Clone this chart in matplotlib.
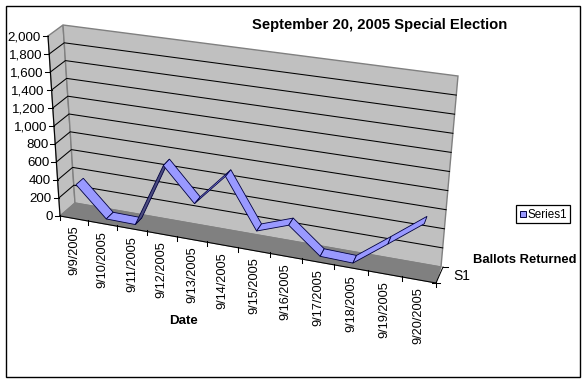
import numpy as np
import matplotlib
matplotlib.use('Agg')
import matplotlib.pyplot as plt
from matplotlib.patches import Polygon, Rectangle

plt.rcParams['font.family'] = ['Liberation Sans', 'DejaVu Sans']

dates = ['9/9/2005', '9/10/2005', '9/11/2005', '9/12/2005', '9/13/2005', '9/14/2005',
         '9/15/2005', '9/16/2005', '9/17/2005', '9/18/2005', '9/19/2005', '9/20/2005']
ballots = [340, 15, 10, 710, 350, 700, 170, 290, 20, 10, 270, 540]
y_ticks = [0, 200, 400, 600, 800, 1000, 1200, 1400, 1600, 1800, 2000]
y_max = 2000
title = 'September 20, 2005 Special Election'

# Corners of the 3D box in pixels (floor front/back, left/right) and the height vectors
FL = np.array([60.0, 216.0])
FR = np.array([436.0, 283.0])
BL = np.array([75.0, 203.0])
BR = np.array([441.0, 267.0])
UP_FL = np.array([-12.0, -180.0])
UP_BL = np.array([-12.0, -178.0])
UP_FR = np.array([17.0, -195.0])
UP_BR = np.array([17.0, -191.0])
W = 1.11  # perspective squeeze along the date axis


def project(u, value, depth):
    # u: 0..1 along dates, value: ballots, depth: 0 front..1 back
    s = u / (W + (1 - W) * u)
    floor = (1 - depth) * ((1 - s) * FL + s * FR) + depth * ((1 - s) * BL + s * BR)
    up = (1 - depth) * ((1 - s) * UP_FL + s * UP_FR) + depth * ((1 - s) * UP_BL + s * UP_BR)
    return floor + up * value / y_max


fig = plt.figure(figsize=(5.86, 3.83), dpi=100)
ax = fig.add_axes([0, 0, 1, 1])
ax.set_xlim(0, 586)
ax.set_ylim(383, 0)
ax.axis('off')

# Chart border
ax.add_patch(Rectangle((5.5, 5.5), 574.5, 371.5, fc='white', ec='black', lw=1.0))

# Walls and floor
wall_c = '#C0C0C0'
edge_c = '#808080'
left_wall = [project(0, 0, 0), project(0, 0, 1), project(0, y_max, 1), project(0, y_max, 0)]
back_wall = [project(0, 0, 1), project(1, 0, 1), project(1, y_max, 1), project(0, y_max, 1)]
floor = [project(0, 0, 0), project(1, 0, 0), project(1, 0, 1), project(0, 0, 1)]
ax.add_patch(Polygon(left_wall, fc=wall_c, ec=edge_c, lw=1.0, zorder=1))
ax.add_patch(Polygon(back_wall, fc=wall_c, ec=edge_c, lw=1.0, zorder=1))
ax.add_patch(Polygon(floor, fc=edge_c, ec=edge_c, lw=0.8, zorder=1))

# Gridlines
for v in y_ticks[1:-1]:
    pts = np.array([project(0, v, 0), project(0, v, 1), project(1, v, 1)])
    ax.plot(pts[:, 0], pts[:, 1], color='black', lw=0.75, zorder=2)

# Value axis
pts = np.array([project(0, 0, 0), project(0, y_max, 0)])
ax.plot(pts[:, 0], pts[:, 1], color='black', lw=0.75, zorder=3)
for v in y_ticks:
    p = project(0, v, 0)
    ax.plot([p[0] - 5, p[0]], [p[1], p[1]], color='black', lw=0.75, zorder=3)
    ax.text(p[0] - 7, p[1] + 1.5, f'{v:,}', ha='right', va='center', fontsize=9.6, color='black')

# Date axis
pts = np.array([project(0, 0, 0), project(1, 0, 0)])
ax.plot(pts[:, 0], pts[:, 1], color='black', lw=0.75, zorder=3)
n = len(dates)
for i in range(n + 1):
    p = project(i / n, 0, 0)
    ax.plot([p[0], p[0]], [p[1] - 1, p[1] + 4], color='black', lw=0.75, zorder=3)
for i, d in enumerate(dates):
    p = project((i + 0.5) / n, 0, 0)
    ax.text(p[0], p[1] + 7, d, rotation=90, ha='center', va='top', fontsize=9.2, color='black')

# Depth axis
p0 = project(1, 0, 0)
p1 = project(1, 0, 1)
ax.plot([p0[0], p1[0] + 2], [p0[1], p1[1]], color='black', lw=0.75, zorder=3)
ax.plot([p1[0] + 2, p1[0] + 7], [p1[1], p1[1]], color='black', lw=0.75, zorder=3)
ax.plot([p0[0] - 4, p0[0] + 4], [p0[1], p0[1]], color='black', lw=0.75, zorder=3)
ax.text(453, 276, 'S1', ha='left', va='center', fontsize=10, color='black')

# Series ribbon
for i in range(n - 1):
    u0 = (i + 0.5) / n
    u1 = (i + 1.5) / n
    quad = np.array([project(u0, ballots[i], 0.25), project(u1, ballots[i + 1], 0.25),
                     project(u1, ballots[i + 1], 0.75), project(u0, ballots[i], 0.75)])
    area = np.cross(quad[1] - quad[0], quad[3] - quad[0])
    # rising segments show the darker underside of the ribbon
    face = '#9999FF' if area < 0 else '#4C4C80'
    ax.add_patch(Polygon(quad, fc=face, ec='#000040', lw=0.6, zorder=4))

# Titles
ax.text(379.5, 25, title, ha='center', va='center', fontsize=10.6, fontweight='bold')
ax.text(184, 321, 'Date', ha='center', va='center', fontsize=9.6, fontweight='bold')
ax.text(525, 260, 'Ballots Returned', ha='center', va='center', fontsize=9.4, fontweight='bold')

# Legend
ax.add_patch(Rectangle((515.5, 204.5), 54.5, 18.5, fc='white', ec='black', lw=0.9))
ax.add_patch(Rectangle((520, 211), 5.5, 5.5, fc='#9999FF', ec='#000040', lw=0.7))
ax.text(528, 215, 'Series1', ha='left', va='center', fontsize=8.4)

fig.savefig('out.png', dpi=100)
